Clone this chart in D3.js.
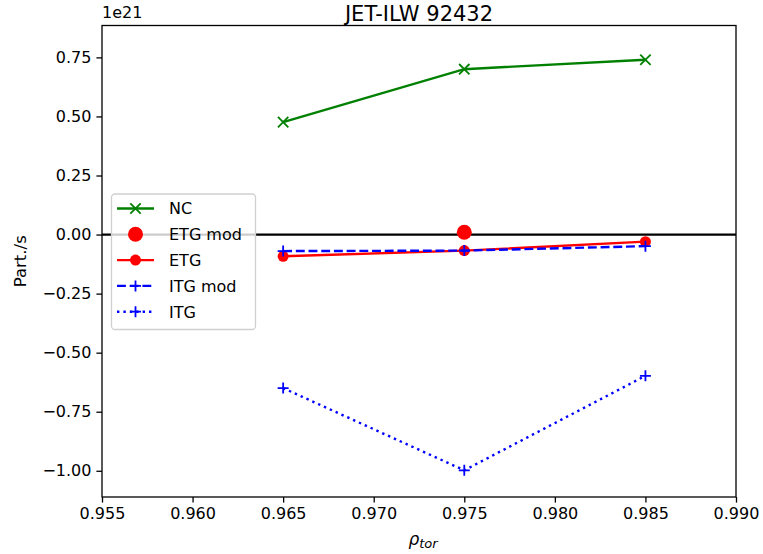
<!DOCTYPE html>
<html>
<head>
<meta charset="utf-8">
<script src="https://cdn.jsdelivr.net/npm/d3@7"></script>
<style>
  html, body { margin: 0; padding: 0; background: #fff; }
  svg text { font-family: "DejaVu Sans", sans-serif; }
</style>
</head>
<body>
<svg id="chart" width="763" height="554"></svg>
<script>
// Radial positions (rho_tor) and particle fluxes in units of 1e21 part./s
const rho = [0.965, 0.975, 0.985];
const ncFlux = [0.476, 0.700, 0.740];
const etgModRho = [0.975];
const etgModFlux = [0.010];
const etgFlux = [-0.092, -0.068, -0.030];
const itgModFlux = [-0.070, -0.068, -0.049];
const itgFlux = [-0.650, -0.998, -0.598];
const xTicks = [0.955, 0.960, 0.965, 0.970, 0.975, 0.980, 0.985, 0.990];
const yTicks = [0.75, 0.50, 0.25, 0.00, -0.25, -0.50, -0.75, -1.00];

const svg = d3.select("#chart");
const L = 102, R = 736, T = 25.5, B = 497;

const x = d3.scaleLinear().domain([0.955, 0.990]).range([L, R]);
const y = d3.scaleLinear().domain([-1.111, 0.885]).range([B, T]);

const lw = 2.4;
const fmtY = v => d3.format(".2f")(v).replace("-", "\u2212");

// zero reference line
svg.append("line")
  .attr("x1", L).attr("x2", R)
  .attr("y1", y(0)).attr("y2", y(0))
  .attr("stroke", "#000").attr("stroke-width", 2.2);

const line = d3.line().x(d => x(d[0])).y(d => y(d[1]));

function crossMarker(g, cx, cy, color, s) {
  g.append("path")
    .attr("d", `M${cx - s},${cy - s}L${cx + s},${cy + s}M${cx - s},${cy + s}L${cx + s},${cy - s}`)
    .attr("stroke", color).attr("stroke-width", 1.8).attr("fill", "none");
}
function plusMarker(g, cx, cy, color, s) {
  g.append("path")
    .attr("d", `M${cx - s},${cy}L${cx + s},${cy}M${cx},${cy - s}L${cx},${cy + s}`)
    .attr("stroke", color).attr("stroke-width", 1.8).attr("fill", "none");
}

const plot = svg.append("g");

// NC
plot.append("path").datum(d3.zip(rho, ncFlux)).attr("d", line)
  .attr("fill", "none").attr("stroke", "#008000").attr("stroke-width", lw);
rho.forEach((r, i) => crossMarker(plot, x(r), y(ncFlux[i]), "#008000", 5.2));

// ETG mod
etgModRho.forEach((r, i) => plot.append("circle")
  .attr("cx", x(r)).attr("cy", y(etgModFlux[i])).attr("r", 7.5).attr("fill", "#ff0000"));

// ETG
plot.append("path").datum(d3.zip(rho, etgFlux)).attr("d", line)
  .attr("fill", "none").attr("stroke", "#ff0000").attr("stroke-width", lw);
rho.forEach((r, i) => plot.append("circle")
  .attr("cx", x(r)).attr("cy", y(etgFlux[i])).attr("r", 5.5).attr("fill", "#ff0000"));

// ITG mod
plot.append("path").datum(d3.zip(rho, itgModFlux)).attr("d", line)
  .attr("fill", "none").attr("stroke", "#0000ff").attr("stroke-width", lw)
  .attr("stroke-dasharray", "8.9,3.8");
rho.forEach((r, i) => plusMarker(plot, x(r), y(itgModFlux[i]), "#0000ff", 5.5));

// ITG
plot.append("path").datum(d3.zip(rho, itgFlux)).attr("d", line)
  .attr("fill", "none").attr("stroke", "#0000ff").attr("stroke-width", lw)
  .attr("stroke-dasharray", "2.4,4");
rho.forEach((r, i) => plusMarker(plot, x(r), y(itgFlux[i]), "#0000ff", 5.5));

// axes
const xAxis = d3.axisBottom(x).tickValues(xTicks).tickFormat(d3.format(".3f"))
  .tickSize(5.6).tickPadding(5);
const yAxis = d3.axisLeft(y).tickValues(yTicks).tickFormat(fmtY)
  .tickSize(5.6).tickPadding(5);

const gx = svg.append("g").attr("transform", `translate(0,${B})`).call(xAxis);
const gy = svg.append("g").attr("transform", `translate(${L},0)`).call(yAxis);
[gx, gy].forEach(g => {
  g.select(".domain").remove();
  g.selectAll(".tick line").attr("stroke", "#000").attr("stroke-width", 1.3);
  g.selectAll(".tick text").attr("fill", "#000").attr("font-size", 16)
    .attr("font-family", "DejaVu Sans");
});

// frame
svg.append("rect").attr("x", L).attr("y", T).attr("width", R - L).attr("height", B - T)
  .attr("fill", "none").attr("stroke", "#000").attr("stroke-width", 1.3);

// offset, title, labels
svg.append("text").attr("x", L).attr("y", 18).attr("font-size", 16).text("1e21");
svg.append("text").attr("x", (L + R) / 2).attr("y", 20.5).attr("font-size", 21)
  .attr("text-anchor", "middle").text("JET-ILW 92432");
svg.append("text").attr("transform", `translate(26,${(T + B) / 2}) rotate(-90)`)
  .attr("font-size", 16.5).attr("text-anchor", "middle").text("Part./s");
const xl = svg.append("text").attr("x", (L + R) / 2 + 4).attr("y", 545)
  .attr("text-anchor", "middle").attr("font-size", 17).attr("font-style", "italic");
xl.append("tspan").text("\u03c1");
xl.append("tspan").attr("font-size", 13).attr("dy", 3).text("tor");

// legend
const lg = svg.append("g");
lg.append("rect").attr("x", 111.5).attr("y", 194).attr("width", 144).attr("height", 135.5)
  .attr("rx", 3.5).attr("fill", "#fff").attr("fill-opacity", 0.8)
  .attr("stroke", "#d0d0d0").attr("stroke-width", 1.3);
const items = [
  { label: "NC", color: "#008000", line: true, dash: null, marker: "x" },
  { label: "ETG mod", color: "#ff0000", line: false, dash: null, marker: "bigdot" },
  { label: "ETG", color: "#ff0000", line: true, dash: null, marker: "dot" },
  { label: "ITG mod", color: "#0000ff", line: true, dash: "8.9,3.8", marker: "+" },
  { label: "ITG", color: "#0000ff", line: true, dash: "2.4,4", marker: "+" }
];
items.forEach((it, i) => {
  const cy = 208.5 + i * 25.8;
  const x0 = 117, x1 = 154, cx = (x0 + x1) / 2;
  if (it.line) {
    lg.append("line").attr("x1", x0).attr("x2", x1).attr("y1", cy).attr("y2", cy)
      .attr("stroke", it.color).attr("stroke-width", lw)
      .attr("stroke-dasharray", it.dash);
  }
  if (it.marker === "x") crossMarker(lg, cx, cy, it.color, 5.2);
  if (it.marker === "+") plusMarker(lg, cx, cy, it.color, 5.5);
  if (it.marker === "dot") lg.append("circle").attr("cx", cx).attr("cy", cy).attr("r", 5.5).attr("fill", it.color);
  if (it.marker === "bigdot") lg.append("circle").attr("cx", cx).attr("cy", cy).attr("r", 7.5).attr("fill", it.color);
  lg.append("text").attr("x", 169).attr("y", cy + 5.8).attr("font-size", 16).text(it.label);
});
</script>
</body>
</html>
